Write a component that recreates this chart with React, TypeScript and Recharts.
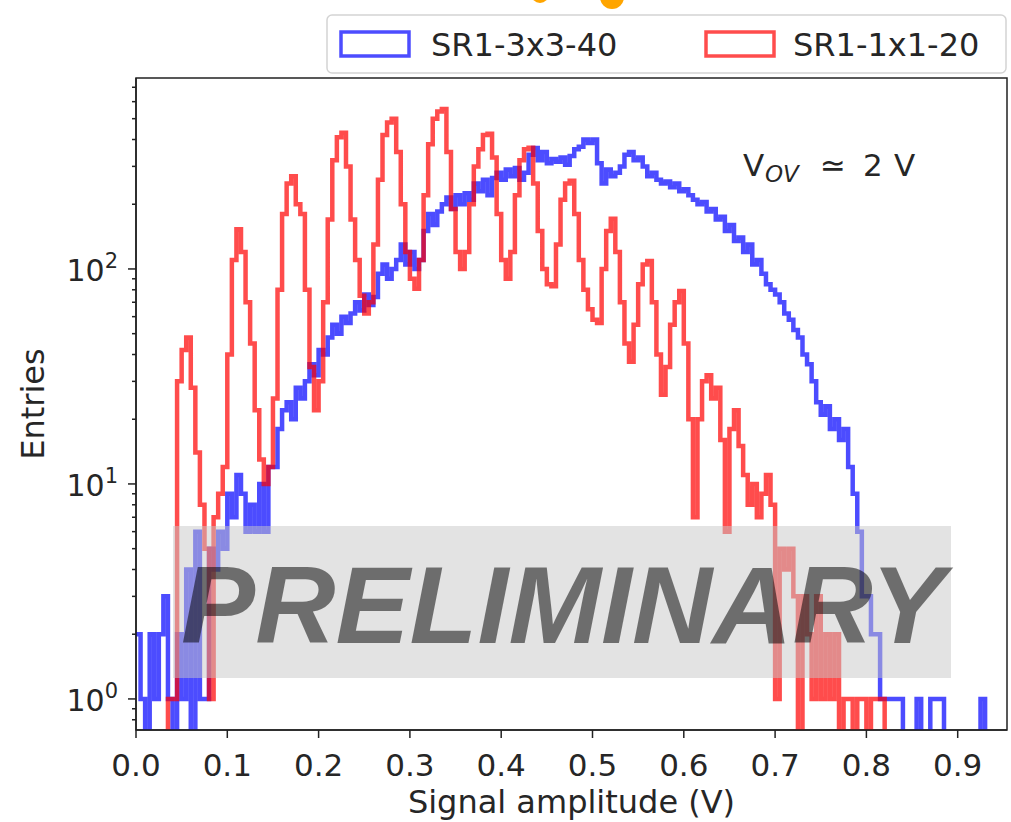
import React from 'react';
import { LineChart, Line, XAxis, YAxis, ReferenceArea } from 'recharts';

// ---------- data ----------
const BIN_WIDTH = 0.005; // histogram bin width (V), bins start at 0

const seriesNames = ['SR1-3x3-40', 'SR1-1x1-20'];

// SR1-3x3-40 (blue) entries per bin
const blueCounts = [
  2, 1, 0, 2, 1, 2, 3, 1, 0, 2,
  1, 4, 0, 6, 1, 1, 5, 4, 6, 5,
  9, 7, 11, 9, 6, 8, 6, 10, 6, 12,
  12, 18, 22, 24, 20, 28, 25, 30, 36, 32,
  42, 40, 48, 55, 50, 60, 56, 62, 70, 64,
  76, 68, 74, 95, 105, 90, 100, 110, 130, 105,
  120, 100, 110, 150, 180, 160, 185, 200, 215, 190,
  220, 200, 225, 210, 250, 230, 260, 220, 265, 280,
  260, 290, 270, 295, 260, 280, 340, 365, 320, 350,
  310, 325, 315, 330, 305, 335, 360, 370, 400, 385,
  400, 310, 250, 290, 270, 280, 300, 340, 350, 320,
  330, 300, 270, 280, 260, 250, 255, 240, 250, 230,
  235, 220, 210, 200, 205, 185, 190, 170, 175, 150,
  160, 135, 140, 120, 130, 105, 110, 95, 85, 80,
  76, 70, 62, 58, 52, 48, 40, 36, 30, 24,
  21, 23, 18, 20, 16, 18, 12, 9, 6, 3,
  3, 2, 2, 1, 1, 1, 1, 1, 0, 0,
  0, 1, 0, 0, 1, 1, 1, 0, 0, 0,
  0, 0, 0, 0, 0, 1,
];

// SR1-1x1-20 (red) entries per bin
const redCounts = [
  0, 0, 0, 0, 0, 0, 0, 1, 1, 30,
  42, 48, 28, 14, 8, 5, 1, 7, 9, 12,
  40, 110, 153, 120, 70, 45, 22, 13, 10, 12,
  25, 80, 180, 250, 270, 200, 180, 80, 35, 22,
  30, 70, 170, 320, 410, 430, 300, 170, 110, 75,
  62, 70, 130, 260, 420, 480, 500, 350, 200, 120,
  90, 81, 110, 220, 380, 500, 540, 555, 350, 190,
  120, 100, 120, 200, 300, 360, 420, 425, 330, 180,
  110, 90, 120, 220, 320, 360, 366, 250, 150, 100,
  85, 83, 130, 210, 250, 257, 180, 110, 80, 65,
  58, 56, 100, 150, 171, 120, 70, 45, 37, 55,
  85, 105, 109, 70, 40, 26, 35, 55, 70, 79,
  45, 20, 7, 20, 30, 32, 25, 28, 16, 6,
  18, 22, 15, 11, 8, 10, 7, 9, 11, 8,
  1, 5, 4, 5, 3, 0, 3, 2, 1, 3,
  1, 2, 1, 2, 0, 1, 1, 0, 1, 1,
  0, 1, 1, 1, 0, 0, 0, 0, 0, 0,
  0, 0, 0, 0, 0, 0, 0, 0, 0, 0,
  0, 0, 0, 0, 0, 0,
];

const xTickValues = [0, 0.1, 0.2, 0.3, 0.4, 0.5, 0.6, 0.7, 0.8, 0.9];
const xTickLabels = ['0.0', '0.1', '0.2', '0.3', '0.4', '0.5', '0.6', '0.7', '0.8', '0.9'];
const yMajorTicks = [1, 10, 100];
const yMinorTicks = [0.8, 0.9, 2, 3, 4, 5, 6, 7, 8, 9, 20, 30, 40, 50, 60, 70, 80, 90, 200, 300, 400, 500, 600, 700];

const X_DOMAIN: [number, number] = [0, 0.954];
const Y_DOMAIN: [number, number] = [0.717, 773];

// empty bins cannot be shown on a log axis: send them below the axis (clipped)
const FLOOR = 0.001;
const data = blueCounts.map((b, i) => ({
  x: Math.round(i * BIN_WIDTH * 1000) / 1000,
  blue: b > 0 ? b : FLOOR,
  red: redCounts[i] > 0 ? redCounts[i] : FLOOR,
}));
data.push({ x: Math.round(blueCounts.length * BIN_WIDTH * 1000) / 1000, blue: FLOOR, red: FLOOR });

const BLUE = '#0000ff';
const RED = '#ff0000';
const TEXT = '#262626';
const FONT = 'DejaVu Sans';
const SPINE = '#222222';

const XTick = (props: any) => {
  const { x, y, payload } = props;
  let idx = 0;
  xTickValues.forEach((v, i) => {
    if (Math.abs(v - payload.value) < Math.abs(xTickValues[idx] - payload.value)) idx = i;
  });
  return (
    <g>
      <line x1={x} x2={x} y1={y} y2={y + 8} stroke={SPINE} strokeWidth={1.5} />
      <text x={x} y={y + 46} textAnchor="middle" fontFamily={FONT} fontSize={31} fill={TEXT}>
        {xTickLabels[idx]}
      </text>
    </g>
  );
};

const YTick = (props: any) => {
  const { x, y, payload } = props;
  const v = payload.value;
  const major = yMajorTicks.some((m) => Math.abs(m - v) < 1e-9);
  const exp = Math.round(Math.log10(v));
  return (
    <g>
      <line x1={x - (major ? 8 : 4)} x2={x} y1={y} y2={y} stroke={SPINE} strokeWidth={1.5} />
      {major && (
        <text x={x - 18} y={y + 12} textAnchor="end" fontFamily={FONT} fontSize={30} fill={TEXT}>
          10
          <tspan dy={-13} fontSize={21}>{exp}</tspan>
        </text>
      )}
    </g>
  );
};

const XTitle = (props: any) => {
  const vb = props.viewBox || { x: 136, y: 730, width: 871, height: 92 };
  return (
    <text x={vb.x + vb.width / 2} y={vb.y + 83} textAnchor="middle" fontFamily={FONT} fontSize={32} fill={TEXT}>
      Signal amplitude (V)
    </text>
  );
};

const YTitle = (props: any) => {
  const vb = props.viewBox || { x: 0, y: 78, width: 136, height: 652 };
  const cx = vb.x + 44;
  const cy = vb.y + vb.height / 2;
  return (
    <text x={cx} y={cy} transform={`rotate(-90 ${cx} ${cy})`} textAnchor="middle" fontFamily={FONT} fontSize={32} fill={TEXT}>
      Entries
    </text>
  );
};

const legendItems = [
  { name: seriesNames[0], color: BLUE, boxX: 341, textX: 431 },
  { name: seriesNames[1], color: RED, boxX: 706, textX: 793 },
];

export default function App() {
  return (
    <div style={{ position: 'absolute', left: 0, top: 0, width: 1011, height: 822, background: '#ffffff' }}>
      <LineChart width={1011} height={822} data={data} margin={{ top: 78, right: 4, bottom: 0, left: 0 }}>
        <XAxis
          dataKey="x"
          type="number"
          domain={X_DOMAIN}
          allowDataOverflow
          ticks={xTickValues}
          interval={0}
          tickSize={0}
          tickMargin={0}
          tickLine={false}
          tick={<XTick />}
          height={92}
          axisLine={{ stroke: SPINE, strokeWidth: 1.5 }}
          label={<XTitle />}
        />
        <YAxis
          scale="log"
          type="number"
          domain={Y_DOMAIN}
          allowDataOverflow
          ticks={[...yMinorTicks, ...yMajorTicks].sort((a, b) => a - b)}
          interval={0}
          tickSize={0}
          tickMargin={0}
          tickLine={false}
          tick={<YTick />}
          width={136}
          axisLine={{ stroke: SPINE, strokeWidth: 1.5 }}
          label={<YTitle />}
        />
        <ReferenceArea
          x1={X_DOMAIN[0]}
          x2={X_DOMAIN[1]}
          y1={Y_DOMAIN[0]}
          y2={Y_DOMAIN[1]}
          fill="none"
          fillOpacity={0}
          stroke={SPINE}
          strokeWidth={1.5}
          ifOverflow="visible"
        />
        <Line
          dataKey="blue"
          name={seriesNames[0]}
          type="stepAfter"
          stroke={BLUE}
          strokeOpacity={0.7}
          strokeWidth={4.5}
          dot={false}
          activeDot={false}
          isAnimationActive={false}
        />
        <Line
          dataKey="red"
          name={seriesNames[1]}
          type="stepAfter"
          stroke={RED}
          strokeOpacity={0.7}
          strokeWidth={4.5}
          dot={false}
          activeDot={false}
          isAnimationActive={false}
        />
      </LineChart>
      <svg
        width={1011}
        height={822}
        style={{ position: 'absolute', left: 0, top: 0, pointerEvents: 'none' }}
      >
        <circle cx={540} cy={-6} r={9} fill="#ffa500" />
        <circle cx={612} cy={-3} r={12} fill="#ffa500" />
        {/* legend */}
        <rect x={327} y={15} width={679} height={58} rx={5} fill="#ffffff" fillOpacity={0.8} stroke="#d4d4d4" strokeWidth={1.5} />
        {legendItems.map((it) => (
          <g key={it.name}>
            <rect x={it.boxX} y={32} width={68} height={24} fill="none" stroke={it.color} strokeOpacity={0.7} strokeWidth={3.5} />
            <text x={it.textX} y={56} fontFamily={FONT} fontSize={32} fill={TEXT}>
              {it.name}
            </text>
          </g>
        ))}
        {/* annotation */}
        <text fontFamily={FONT} fontSize={31} fill={TEXT}>
          <tspan x={743} y={176}>V</tspan>
          <tspan x={765} y={182} fontSize={23} fontStyle="italic">OV</tspan>
          <tspan x={820} y={176}>≃</tspan>
          <tspan x={863} y={176}>2</tspan>
          <tspan x={894} y={176}>V</tspan>
        </text>
        {/* preliminary stamp */}
        <rect x={173} y={526} width={778} height={152} fill="#c8c8c8" fillOpacity={0.5} />
        <text
          x={181}
          y={643}
          fontFamily="Liberation Sans"
          fontWeight="bold"
          fontStyle="italic"
          fontSize={110}
          fill="#000000"
          fillOpacity={0.52}
          textLength={764}
          lengthAdjust="spacingAndGlyphs"
        >
          PRELIMINARY
        </text>
      </svg>
    </div>
  );
}
